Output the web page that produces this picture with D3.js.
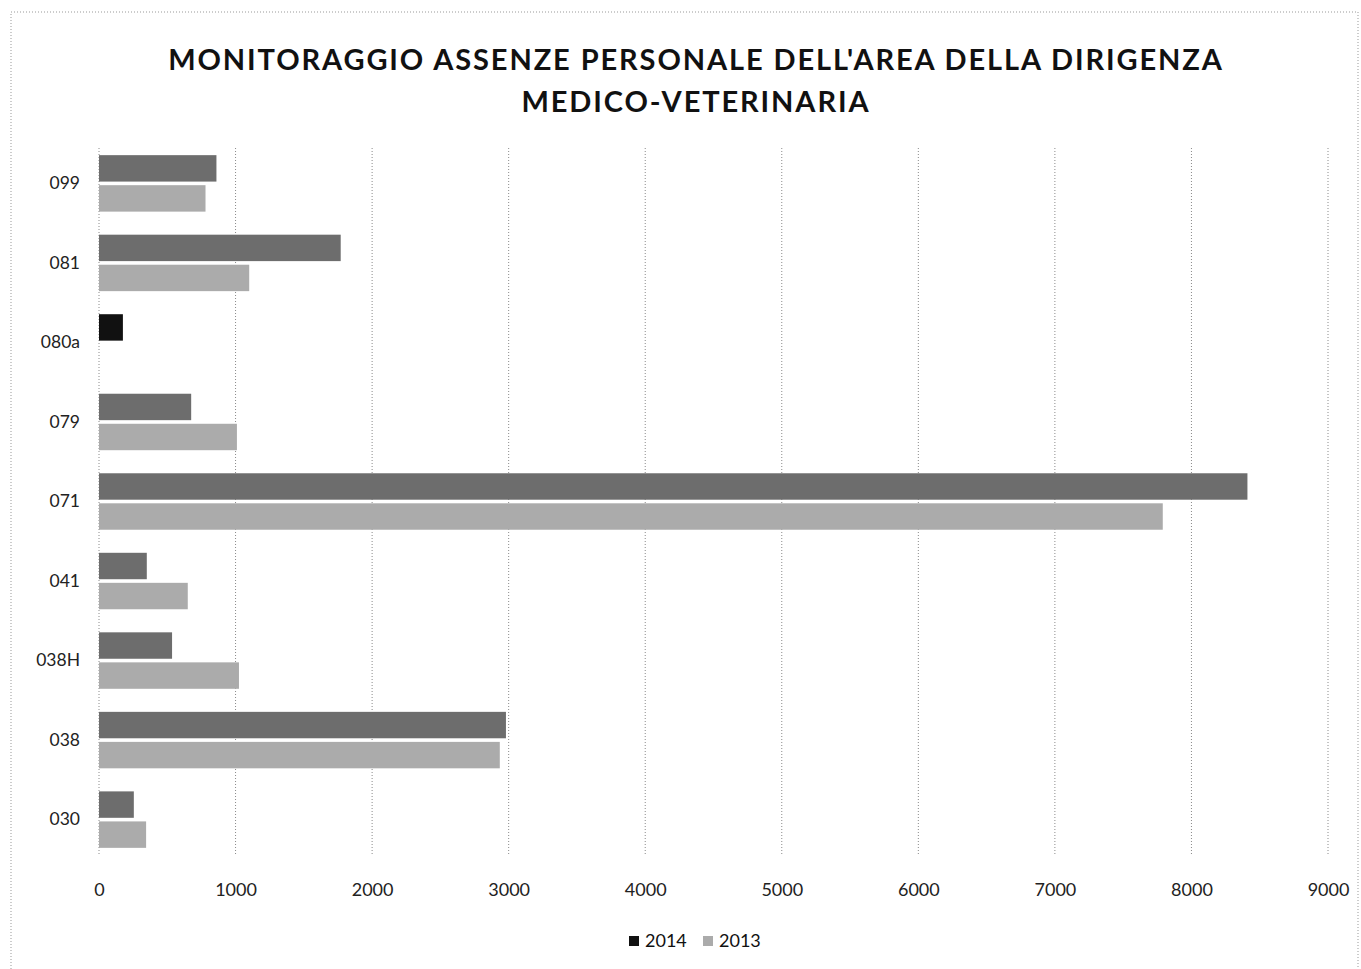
<!DOCTYPE html>
<html>
<head>
<meta charset="utf-8">
<script src="https://cdn.jsdelivr.net/npm/d3@7"></script>
<style>
  body { margin: 0; background: #fff; }
  text { font-family: Lato, "Open Sans", sans-serif; }
</style>
</head>
<body>
<div id="chart"></div>
<script>
// Sample data
const categories = ["099", "081", "080a", "079", "071", "041", "038H", "038", "030"];
const years = ["2014", "2013"];
const values2014 = [860, 1770, 175, 675, 8410, 350, 535, 2980, 255];
const values2013 = [780, 1100, 0, 1010, 7790, 650, 1025, 2935, 345];
const xTicks = [0, 1000, 2000, 3000, 4000, 5000, 6000, 7000, 8000, 9000];
const titleLines = ["MONITORAGGIO ASSENZE PERSONALE DELL'AREA DELLA DIRIGENZA", "MEDICO-VETERINARIA"];

function createBarChart(sel) {
  const width = 1361;
  const height = 969;
  const margin = { top: 148, right: 33, bottom: 116, left: 99 };
  const innerHeight = height - margin.top - margin.bottom;

  const colors = { "2014": "#6d6d6d", "2013": "#ababab" };

  const svg = d3.select(sel)
    .append("svg")
    .attr("width", width)
    .attr("height", height);

  // faint dotted frame of the scanned chart area
  svg.append("rect")
    .attr("x", 11).attr("y", 12)
    .attr("width", width - 14).attr("height", height - 6)
    .attr("fill", "none")
    .attr("stroke", "#999")
    .attr("stroke-width", 1)
    .attr("stroke-dasharray", "1,2");

  // title
  svg.append("g").selectAll("text")
    .data(titleLines)
    .join("text")
    .attr("x", 696)
    .attr("y", (d, i) => 70 + i * 42)
    .attr("text-anchor", "middle")
    .attr("font-size", 29)
    .attr("font-weight", "bold")
    .attr("letter-spacing", "1.9px")
    .attr("fill", "#111")
    .text(d => d);

  const g = svg.append("g")
    .attr("transform", `translate(${margin.left},${margin.top})`);

  // scales
  const xScale = d3.scaleLinear()
    .domain([0, 9000])
    .range([0, 1229]);

  const yScale = d3.scaleBand()
    .domain(categories)
    .range([0, innerHeight + 2])
    .paddingInner(0.29)
    .paddingOuter(0.09);

  const ySub = d3.scaleBand()
    .domain(years)
    .range([0, yScale.bandwidth()])
    .paddingInner(0.12);

  // gridlines
  g.append("g")
    .selectAll("line")
    .data(xTicks)
    .join("line")
    .attr("x1", d => xScale(d))
    .attr("x2", d => xScale(d))
    .attr("y1", 0)
    .attr("y2", innerHeight + 2)
    .attr("stroke", "#8a8a8a")
    .attr("stroke-width", 1)
    .attr("stroke-dasharray", "1,2");

  // bars
  const rows = categories.map((c, i) => ({ cat: c, vals: [
    { year: "2014", value: values2014[i] },
    { year: "2013", value: values2013[i] }
  ] }));

  g.append("g")
    .selectAll("g")
    .data(rows)
    .join("g")
    .attr("transform", d => `translate(0,${yScale(d.cat)})`)
    .selectAll("rect")
    .data(d => d.vals.map(v => ({ ...v, cat: d.cat })))
    .join("rect")
    .attr("x", xScale(0))
    .attr("y", d => ySub(d.year))
    .attr("width", d => xScale(d.value) - xScale(0))
    .attr("height", ySub.bandwidth())
    // the 080a bar came out solid black in the scan
    .attr("fill", d => d.cat === "080a" ? "#111" : colors[d.year]);

  // x-axis labels
  const xAxis = g.append("g")
    .attr("transform", `translate(0,${innerHeight + 30})`)
    .call(d3.axisBottom(xScale).tickValues(xTicks).tickSize(0).tickPadding(0).tickFormat(d3.format("d")));
  xAxis.select(".domain").remove();
  xAxis.selectAll("text")
    .attr("font-size", 18)
    .attr("fill", "#222")
    .style("font-family", "Lato, 'Open Sans', sans-serif");

  // y-axis labels
  const yAxis = g.append("g")
    .attr("transform", `translate(-19,0)`)
    .call(d3.axisLeft(yScale).tickSize(0).tickPadding(0));
  yAxis.select(".domain").remove();
  yAxis.selectAll("text")
    .attr("font-size", 17.5)
    .attr("fill", "#222")
    .style("font-family", "Lato, 'Open Sans', sans-serif");

  // legend
  const legend = svg.append("g")
    .attr("transform", "translate(629,947)");
  const items = legend.selectAll("g")
    .data(years)
    .join("g")
    .attr("transform", (d, i) => `translate(${i * 74},0)`);
  items.append("rect")
    .attr("x", 0).attr("y", -11)
    .attr("width", 10).attr("height", 10)
    .attr("fill", d => d === "2014" ? "#111" : colors[d]);
  items.append("text")
    .attr("x", 16).attr("y", 0)
    .attr("font-size", 18)
    .attr("fill", "#111")
    .text(d => d);
}

createBarChart("#chart");
</script>
</body>
</html>
